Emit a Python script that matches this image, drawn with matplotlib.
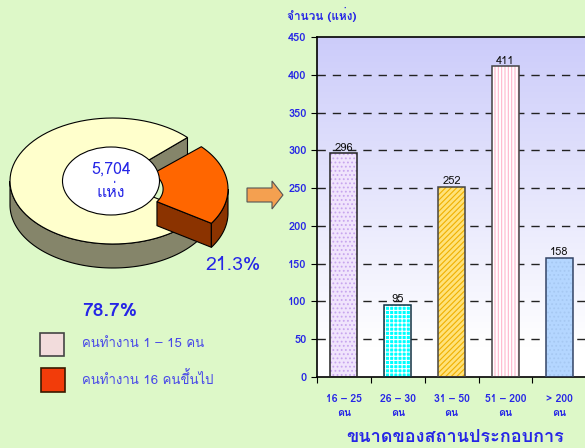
import numpy as np
import matplotlib
matplotlib.use("Agg")
import matplotlib.pyplot as plt
from matplotlib import font_manager
from matplotlib.ft2font import FT2Font
from matplotlib.patches import Polygon, Ellipse, Rectangle

# data
pie_labels = ["คนทำงาน 1 – 15 คน", "คนทำงาน 16 คนขึ้นไป"]
pie_pcts = [78.7, 21.3]
total_text = "5,704\nแห่ง"
categories = ["16 – 25\nคน", "26 – 30\nคน", "31 – 50\nคน", "51 – 200\nคน", "> 200\nคน"]
counts = [296, 95, 252, 411, 158]
y_ticks = [0, 50, 100, 150, 200, 250, 300, 350, 400, 450]


def thai_family():
    for f in font_manager.fontManager.ttflist:
        try:
            if 0x0E04 in FT2Font(f.fname).get_charmap():
                return [f.name, "DejaVu Sans"]
        except Exception:
            continue
    return ["DejaVu Sans"]


fam = thai_family()
plt.rcParams['font.family'] = fam
plt.rcParams['hatch.linewidth'] = 0.8

BLUE = "#2626E6"
LBLUE = "#4848E8"
BG = "#DDF8C8"

fig = plt.figure(figsize=(5.85, 4.48), dpi=100)
fig.patch.set_facecolor(BG)

# overlay in pixel coordinates for the 3D donut
ov = fig.add_axes([0, 0, 1, 1])
ov.set_xlim(0, 585)
ov.set_ylim(448, 0)
ov.axis("off")
ov.patch.set_alpha(0)

cx, cy, rx, ry, depth, hole = 113, 181, 103, 63, 24, 0.37


def pt(t, s, ox=0, oy=0):
    t = np.radians(t)
    return (cx + ox + rx * s * np.cos(t), cy + oy - ry * s * np.sin(t))


def arc(t0, t1, s, ox=0, oy=0, n=80):
    return [pt(t, s, ox, oy) for t in np.linspace(t0, t1, n)]


def cut_face(t, ox, oy, color):
    face = [pt(t, hole, ox, oy), pt(t, 1, ox, oy), pt(t, 1, ox, oy + depth),
            pt(t, hole, ox, oy + depth)]
    ov.add_patch(Polygon(face, closed=True, fc=color, ec="black", lw=0.8))


def outer_side(t0, t1, ox, oy, color):
    up = arc(t0, t1, 1, ox, oy)
    dn = arc(t1, t0, 1, ox, oy + depth)
    ov.add_patch(Polygon(up + dn, closed=True, fc=color, ec="black", lw=0.8))


def top_face(t0, t1, ox, oy, color):
    poly = arc(t0, t1, 1, ox, oy) + arc(t1, t0, hole, ox, oy)
    ov.add_patch(Polygon(poly, closed=True, fc=color, ec="black", lw=0.8))


# orange slice from o0, light slice takes the rest
o0 = -33
o1 = o0 + pie_pcts[1] / 100 * 360
l0 = o1
l1 = o0 + 360

# light slice
cut_face(l0, 0, 0, "#85856A")
outer_side(180, l1, 0, 0, "#85856A")
top_face(l0, l1, 0, 0, "#FFFFCC")

# orange slice, exploded
ex, ey = 12, 8
cut_face(o0, ex, ey, "#8B3300")
outer_side(o0, 0, ex, ey, "#8B3300")
top_face(o0, o1 - 1.5, ex, ey, "#FF6600")

# centre label
ov.add_patch(Ellipse((111, 181), 97, 68, fc="white", ec="black", lw=0.8))
ov.text(111, 181, total_text, ha="center", va="center", color=BLUE,
        fontsize=11.5, linespacing=1.6)

ov.text(233, 265, f"{pie_pcts[1]}%", ha="center", va="center", color=BLUE, fontsize=14)
ov.text(110, 311, f"{pie_pcts[0]}%", ha="center", va="center", color=BLUE,
        fontsize=14, fontweight="bold")

# legend
ov.add_patch(Rectangle((40, 333), 24, 23, fc="#F2DCDC", ec="#444444", lw=1.2))
ov.add_patch(Rectangle((41, 368), 24, 24, fc="#F23C0A", ec="#3A1A00", lw=1.2))
ov.text(82, 344, pie_labels[0], va="center", color=LBLUE, fontsize=9.5)
ov.text(82, 379, pie_labels[1], va="center", color=LBLUE, fontsize=9.5)

# arrow
ov.add_patch(Polygon([(247, 188), (272, 188), (272, 181), (283, 195), (272, 209),
                      (272, 202), (247, 202)], closed=True, fc="#F4A050", ec="#555555", lw=0.8))

# bar chart
ax = fig.add_axes([317 / 585, 1 - 377 / 448, 1 - 317 / 585 + 0.002, (377 - 37) / 448])
ax.set_xlim(-0.5, 4.5)
ax.set_ylim(0, 450)

grad = np.ones((256, 1, 3))
top = np.array([0.80, 0.80, 0.98])
yy = np.linspace(450, 0, 256)
w = np.clip((yy - 40) / 410, 0, 1)[:, None]
grad[:, 0, :] = w * top + (1 - w) * 1.0
ax.imshow(grad, extent=[-0.5, 4.5, 0, 450], aspect="auto", zorder=0, origin="upper")

for v in y_ticks[1:-1]:
    ax.axhline(v, color="#222222", lw=1, ls=(0, (6, 5)), zorder=1)

styles = [
    ("#F0E4FC", "#C8A6EE", "...."),
    ("#00FFFF", "#FFFFFF", "++++"),
    ("#FFE27A", "#F0B000", "//////"),
    ("#FFFFFF", "#FFB6CC", "|||||"),
    ("#B4D6FF", "#A6C8F2", "...."),
]
edges = ["#222222", "#113344", "#444444", "#444444", "#334466"]
x = np.arange(len(categories))
for i, (fc, hc, hp) in enumerate(styles):
    ax.bar(x[i], counts[i], width=0.5, color=fc, edgecolor=hc, hatch=hp, lw=0, zorder=2)
    ax.bar(x[i], counts[i], width=0.5, fill=False, edgecolor=edges[i], lw=1.1, zorder=3)
    ax.text(x[i], counts[i] + 1, str(counts[i]), ha="center", va="bottom",
            fontsize=8, color="#111111", zorder=4)

ax.set_yticks(y_ticks)
ax.tick_params(axis="y", colors="black", labelcolor=BLUE, labelsize=8, length=4)
for lab in ax.get_yticklabels():
    lab.set_fontweight("bold")
ax.set_xticks(np.arange(-0.5, 4.6, 1))
ax.set_xticklabels([])
ax.set_xticks(x, minor=True)
ax.set_xticklabels(categories, minor=True, fontsize=7.5, fontweight="bold", color=BLUE,
                   linespacing=1.6)
ax.tick_params(axis="x", which="minor", length=0, pad=12)
ax.tick_params(axis="x", which="major", length=4)
ax.spines["right"].set_visible(False)
for s in ["left", "bottom", "top"]:
    ax.spines[s].set_linewidth(1.2)

fig.text(455 / 585, 1 - 437 / 448, "ขนาดของสถานประกอบการ", ha="center", va="center",
         color=BLUE, fontsize=13, fontweight="bold")
fig.text(287 / 585, 1 - 14 / 448, "จำนวน (แห่ง)", ha="left", va="center",
         color=BLUE, fontsize=8.5, fontweight="bold")

fig.savefig("out.png", dpi=100, facecolor=BG)
